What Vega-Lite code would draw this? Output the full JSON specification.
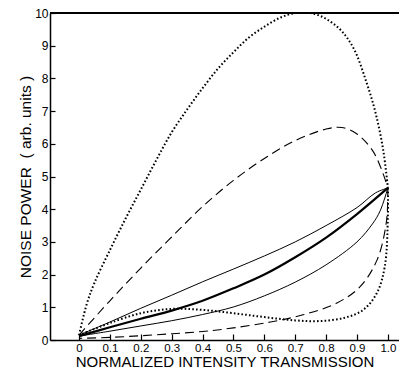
{
  "$schema": "https://vega.github.io/schema/vega-lite/v6.json",
  "width": 349,
  "height": 327,
  "autosize": {"type": "none"},
  "padding": {"left": 50, "top": 13, "right": 0, "bottom": 33},
  "background": "white",
  "config": {
    "view": {"stroke": null},
    "font": "Liberation Sans",
    "axis": {"grid": false, "domainColor": "black", "tickColor": "black", "labelColor": "black", "titleColor": "black", "labelFont": "Liberation Sans", "titleFont": "Liberation Sans", "labelFontSize": 12, "titleFontSize": 15.5, "titleFontWeight": "normal", "domainWidth": 1.5, "tickWidth": 1.2}
  },
  "data": {"values": [
    {"b":"dotted-u","c":"dotted","o":1,"x":0,"y":0.15},{"b":"dotted-u","c":"dotted","o":2,"x":0.025,"y":1.1},{"b":"dotted-u","c":"dotted","o":3,"x":0.05,"y":1.75},{"b":"dotted-u","c":"dotted","o":4,"x":0.1,"y":2.75},{"b":"dotted-u","c":"dotted","o":5,"x":0.15,"y":3.7},{"b":"dotted-u","c":"dotted","o":6,"x":0.2,"y":4.6},{"b":"dotted-u","c":"dotted","o":7,"x":0.25,"y":5.5},{"b":"dotted-u","c":"dotted","o":8,"x":0.3,"y":6.35},{"b":"dotted-u","c":"dotted","o":9,"x":0.35,"y":7.05},{"b":"dotted-u","c":"dotted","o":10,"x":0.4,"y":7.7},{"b":"dotted-u","c":"dotted","o":11,"x":0.45,"y":8.3},{"b":"dotted-u","c":"dotted","o":12,"x":0.5,"y":8.8},{"b":"dotted-u","c":"dotted","o":13,"x":0.55,"y":9.25},{"b":"dotted-u","c":"dotted","o":14,"x":0.6,"y":9.58},{"b":"dotted-u","c":"dotted","o":15,"x":0.65,"y":9.85},{"b":"dotted-u","c":"dotted","o":16,"x":0.7,"y":10.0},{"b":"dotted-u","c":"dotted","o":17,"x":0.75,"y":10.0},{"b":"dotted-u","c":"dotted","o":18,"x":0.8,"y":9.82},{"b":"dotted-u","c":"dotted","o":19,"x":0.85,"y":9.45},{"b":"dotted-u","c":"dotted","o":20,"x":0.89,"y":8.9},{"b":"dotted-u","c":"dotted","o":21,"x":0.93,"y":7.9},{"b":"dotted-u","c":"dotted","o":22,"x":0.96,"y":6.95},{"b":"dotted-u","c":"dotted","o":23,"x":0.985,"y":5.8},{"b":"dotted-u","c":"dotted","o":24,"x":1.0,"y":4.65},
    {"b":"dotted-l","c":"dotted","o":1,"x":1.0,"y":4.65},{"b":"dotted-l","c":"dotted","o":2,"x":1.0,"y":3.8},{"b":"dotted-l","c":"dotted","o":3,"x":0.99,"y":2.25},{"b":"dotted-l","c":"dotted","o":4,"x":0.965,"y":1.45},{"b":"dotted-l","c":"dotted","o":5,"x":0.92,"y":0.92},{"b":"dotted-l","c":"dotted","o":6,"x":0.86,"y":0.68},{"b":"dotted-l","c":"dotted","o":7,"x":0.78,"y":0.58},{"b":"dotted-l","c":"dotted","o":8,"x":0.7,"y":0.6},{"b":"dotted-l","c":"dotted","o":9,"x":0.6,"y":0.7},{"b":"dotted-l","c":"dotted","o":10,"x":0.5,"y":0.82},{"b":"dotted-l","c":"dotted","o":11,"x":0.4,"y":0.92},{"b":"dotted-l","c":"dotted","o":12,"x":0.3,"y":0.95},{"b":"dotted-l","c":"dotted","o":13,"x":0.2,"y":0.82},{"b":"dotted-l","c":"dotted","o":14,"x":0.1,"y":0.52},{"b":"dotted-l","c":"dotted","o":15,"x":0.04,"y":0.3},{"b":"dotted-l","c":"dotted","o":16,"x":0,"y":0.15},
    {"b":"dashed-u","c":"dashed","o":1,"x":0,"y":0.15},{"b":"dashed-u","c":"dashed","o":2,"x":0.1,"y":1.2},{"b":"dashed-u","c":"dashed","o":3,"x":0.2,"y":2.2},{"b":"dashed-u","c":"dashed","o":4,"x":0.3,"y":3.15},{"b":"dashed-u","c":"dashed","o":5,"x":0.4,"y":4.08},{"b":"dashed-u","c":"dashed","o":6,"x":0.5,"y":4.88},{"b":"dashed-u","c":"dashed","o":7,"x":0.6,"y":5.55},{"b":"dashed-u","c":"dashed","o":8,"x":0.7,"y":6.1},{"b":"dashed-u","c":"dashed","o":9,"x":0.8,"y":6.45},{"b":"dashed-u","c":"dashed","o":10,"x":0.85,"y":6.5},{"b":"dashed-u","c":"dashed","o":11,"x":0.9,"y":6.3},{"b":"dashed-u","c":"dashed","o":12,"x":0.95,"y":5.8},{"b":"dashed-u","c":"dashed","o":13,"x":0.98,"y":5.2},{"b":"dashed-u","c":"dashed","o":14,"x":1.0,"y":4.65},
    {"b":"dashed-l","c":"dashed","o":1,"x":1.0,"y":4.65},{"b":"dashed-l","c":"dashed","o":2,"x":0.995,"y":3.6},{"b":"dashed-l","c":"dashed","o":3,"x":0.965,"y":2.45},{"b":"dashed-l","c":"dashed","o":4,"x":0.91,"y":1.63},{"b":"dashed-l","c":"dashed","o":5,"x":0.835,"y":1.13},{"b":"dashed-l","c":"dashed","o":6,"x":0.725,"y":0.77},{"b":"dashed-l","c":"dashed","o":7,"x":0.62,"y":0.55},{"b":"dashed-l","c":"dashed","o":8,"x":0.5,"y":0.37},{"b":"dashed-l","c":"dashed","o":9,"x":0.4,"y":0.26},{"b":"dashed-l","c":"dashed","o":10,"x":0.3,"y":0.19},{"b":"dashed-l","c":"dashed","o":11,"x":0.2,"y":0.13},{"b":"dashed-l","c":"dashed","o":12,"x":0.1,"y":0.08},{"b":"dashed-l","c":"dashed","o":13,"x":0,"y":0.05},
    {"b":"thin-u","c":"thin","o":1,"x":0,"y":0.15},{"b":"thin-u","c":"thin","o":2,"x":0.1,"y":0.55},{"b":"thin-u","c":"thin","o":3,"x":0.2,"y":0.97},{"b":"thin-u","c":"thin","o":4,"x":0.3,"y":1.37},{"b":"thin-u","c":"thin","o":5,"x":0.4,"y":1.78},{"b":"thin-u","c":"thin","o":6,"x":0.5,"y":2.17},{"b":"thin-u","c":"thin","o":7,"x":0.6,"y":2.57},{"b":"thin-u","c":"thin","o":8,"x":0.7,"y":3.0},{"b":"thin-u","c":"thin","o":9,"x":0.8,"y":3.5},{"b":"thin-u","c":"thin","o":10,"x":0.9,"y":4.05},{"b":"thin-u","c":"thin","o":11,"x":0.96,"y":4.5},{"b":"thin-u","c":"thin","o":12,"x":1.0,"y":4.65},
    {"b":"thin-l","c":"thin","o":1,"x":1.0,"y":4.65},{"b":"thin-l","c":"thin","o":2,"x":0.975,"y":3.95},{"b":"thin-l","c":"thin","o":3,"x":0.95,"y":3.55},{"b":"thin-l","c":"thin","o":4,"x":0.9,"y":3.0},{"b":"thin-l","c":"thin","o":5,"x":0.8,"y":2.3},{"b":"thin-l","c":"thin","o":6,"x":0.7,"y":1.77},{"b":"thin-l","c":"thin","o":7,"x":0.6,"y":1.35},{"b":"thin-l","c":"thin","o":8,"x":0.5,"y":1.01},{"b":"thin-l","c":"thin","o":9,"x":0.4,"y":0.78},{"b":"thin-l","c":"thin","o":10,"x":0.3,"y":0.59},{"b":"thin-l","c":"thin","o":11,"x":0.2,"y":0.43},{"b":"thin-l","c":"thin","o":12,"x":0.1,"y":0.27},{"b":"thin-l","c":"thin","o":13,"x":0,"y":0.12},
    {"b":"thick","c":"thick","o":1,"x":0,"y":0.12},{"b":"thick","c":"thick","o":2,"x":0.1,"y":0.39},{"b":"thick","c":"thick","o":3,"x":0.2,"y":0.65},{"b":"thick","c":"thick","o":4,"x":0.3,"y":0.9},{"b":"thick","c":"thick","o":5,"x":0.4,"y":1.2},{"b":"thick","c":"thick","o":6,"x":0.5,"y":1.58},{"b":"thick","c":"thick","o":7,"x":0.6,"y":2.0},{"b":"thick","c":"thick","o":8,"x":0.7,"y":2.53},{"b":"thick","c":"thick","o":9,"x":0.8,"y":3.13},{"b":"thick","c":"thick","o":10,"x":0.9,"y":3.85},{"b":"thick","c":"thick","o":11,"x":1.0,"y":4.65}
  ]},
  "encoding": {
    "x": {"field": "x", "type": "quantitative", "scale": {"domain": [-0.094, 1.036], "nice": false, "zero": false},
      "axis": {"values": [0,0.1,0.2,0.3,0.4,0.5,0.6,0.7,0.8,0.9,1.0], "labelExpr": "datum.value == 0 ? '0' : format(datum.value, '.1f')", "tickSize": -6, "labelPadding": 8, "labelFontSize": 11.5, "title": "NORMALIZED INTENSITY TRANSMISSION", "titlePadding": 1, "titleFontSize": 15, "labelFlush": false}},
    "y": {"field": "y", "type": "quantitative", "scale": {"domain": [0, 10], "nice": false},
      "axis": {"values": [0,1,2,3,4,5,6,7,8,9,10], "tickSize": -5, "labelPadding": 7, "title": "NOISE POWER\u00a0\u00a0( arb. units )", "titlePadding": 1}},
    "order": {"field": "o", "type": "quantitative"},
    "detail": {"field": "b", "type": "nominal"}
  },
  "layer": [
    {"mark": {"type": "rule", "color": "black", "strokeWidth": 1.5}, "encoding": {"y": {"datum": 10}, "x": null, "order": null, "detail": null}},
    {"transform": [{"filter": "datum.c == 'dotted'"}], "mark": {"type": "line", "color": "black", "strokeWidth": 2, "strokeDash": [1.6, 2.2], "interpolate": "catmull-rom", "clip": true}},
    {"transform": [{"filter": "datum.c == 'dashed'"}], "mark": {"type": "line", "color": "black", "strokeWidth": 1.1, "strokeDash": [9, 5], "interpolate": "catmull-rom"}},
    {"transform": [{"filter": "datum.c == 'thin'"}], "mark": {"type": "line", "color": "black", "strokeWidth": 1, "interpolate": "catmull-rom"}},
    {"transform": [{"filter": "datum.c == 'thick'"}], "mark": {"type": "line", "color": "black", "strokeWidth": 2.2, "interpolate": "catmull-rom"}}
  ]
}
